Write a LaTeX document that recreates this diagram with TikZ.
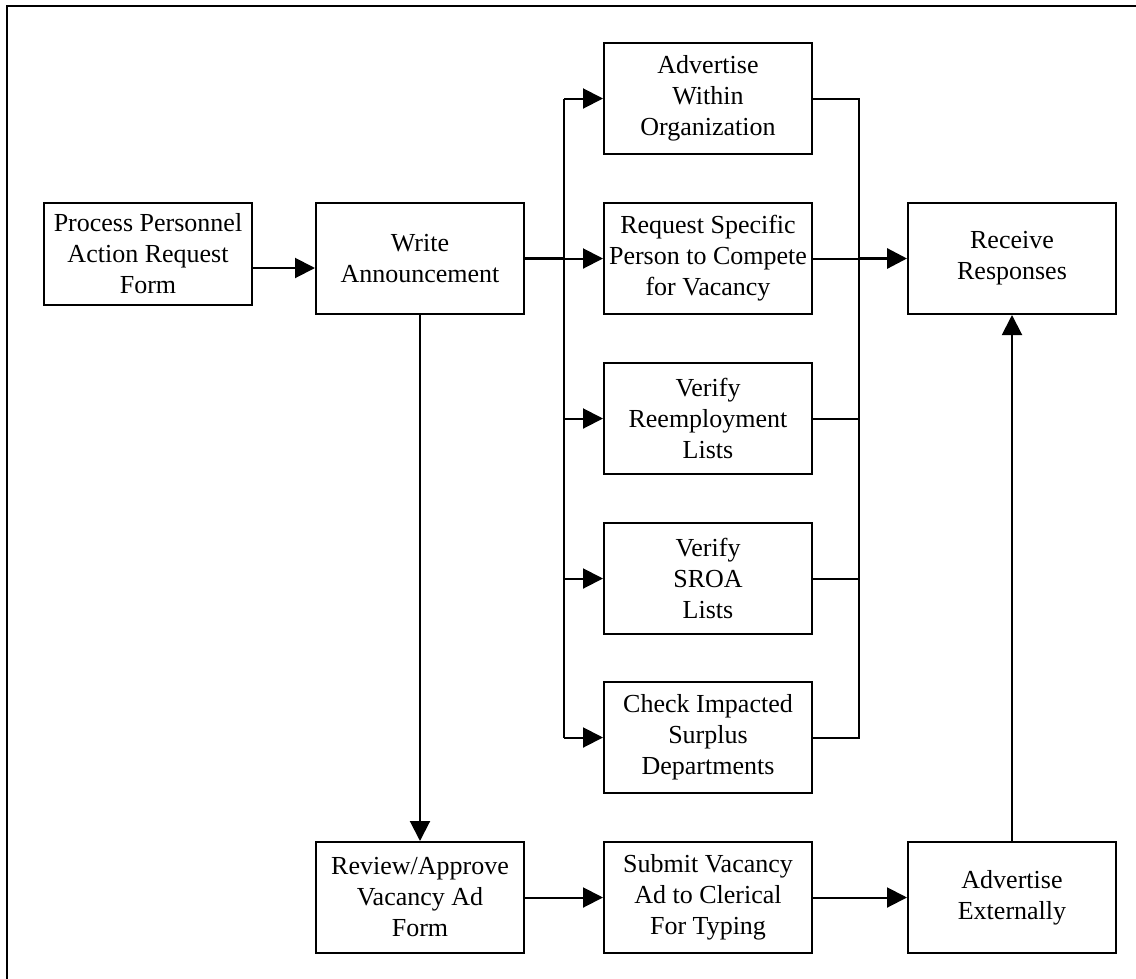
\documentclass[tikz,border=0pt]{standalone}
\usepackage{fontspec}
\setmainfont{Liberation Serif}
\usetikzlibrary{arrows.meta,calc}
\begin{document}
\begin{tikzpicture}[x=1pt,y=-1pt,
  box/.style={draw,line width=2pt,inner sep=0pt,align=center,
    font=\fontsize{26}{31}\selectfont,minimum width=208pt},
  ln/.style={line width=2pt},
  thk/.style={line width=3.2pt},
  arr/.style={line width=2pt,-{Triangle[length=20pt,width=20pt]}},
  arrthk/.style={line width=3.2pt,-{Triangle[length=20pt,width=20pt]}}]
\useasboundingbox (0,0) rectangle (1136,978);
\draw[line width=2pt] (6.5,1000) -- (6.5,5.5) -- (1150,5.5);

\node[box,minimum height=102pt] (b1) at (148,254) {Process Personnel\\Action Request\\Form};
\node[box,minimum height=111pt] (b2) at (420,258.5) {Write\\Announcement};
\node[box,minimum height=111pt] (a1) at (708,98.5) {Advertise\\Within\\Organization};
\node[box,minimum height=111pt] (a2) at (708,258.5) {Request Specific\\Person to Compete\\for Vacancy};
\node[box,minimum height=111pt] (a3) at (708,418.5) {Verify\\Reemployment\\Lists};
\node[box,minimum height=111pt] (a4) at (708,578.5) {Verify\\SROA\\Lists};
\node[box,minimum height=111pt] (a5) at (708,737.5) {Check Impacted\\Surplus\\Departments};
\node[box,minimum height=111pt] (rc) at (1012,258.5) {Receive\\Responses};
\node[box,minimum height=111pt] (rv) at (420,897.5) {Review/Approve\\Vacancy Ad\\Form};
\node[box,minimum height=111pt] (sb) at (708,897.5) {Submit Vacancy\\Ad to Clerical\\For Typing};
\node[box,minimum height=111pt] (ae) at (1012,897.5) {Advertise\\Externally};

\coordinate (bx) at (564,0);
\coordinate (mx) at (859,0);

% process -> write
\draw[arr] ([yshift=-14pt]b1.east) -- ([yshift=-9.5pt]b2.west);
% write -> branch
\draw[thk] (b2.east) -- (bx |- b2.east);
\draw[ln] (bx |- a1.west) -- (bx |- a5.west);
\draw[arr] (bx |- a1.west) -- (a1.west);
\draw[arr] (bx |- a2.west) -- (a2.west);
\draw[arr] (bx |- a3.west) -- (a3.west);
\draw[arr] (bx |- a4.west) -- (a4.west);
\draw[arr] (bx |- a5.west) -- (a5.west);
% merge
\draw[ln] (a1.east) -- (mx |- a1.east) -- (mx |- a5.east) -- (a5.east);
\draw[ln] (a2.east) -- (mx |- a2.east);
\draw[ln] (a3.east) -- (mx |- a3.east);
\draw[ln] (a4.east) -- (mx |- a4.east);
\draw[arrthk] (mx |- a2.east) -- (rc.west);
% lower path
\draw[arr] (b2.south) -- (rv.north);
\draw[arr] (rv.east) -- (sb.west);
\draw[arr] (sb.east) -- (ae.west);
\draw[arr] (ae.north) -- (rc.south);
\end{tikzpicture}
\end{document}
